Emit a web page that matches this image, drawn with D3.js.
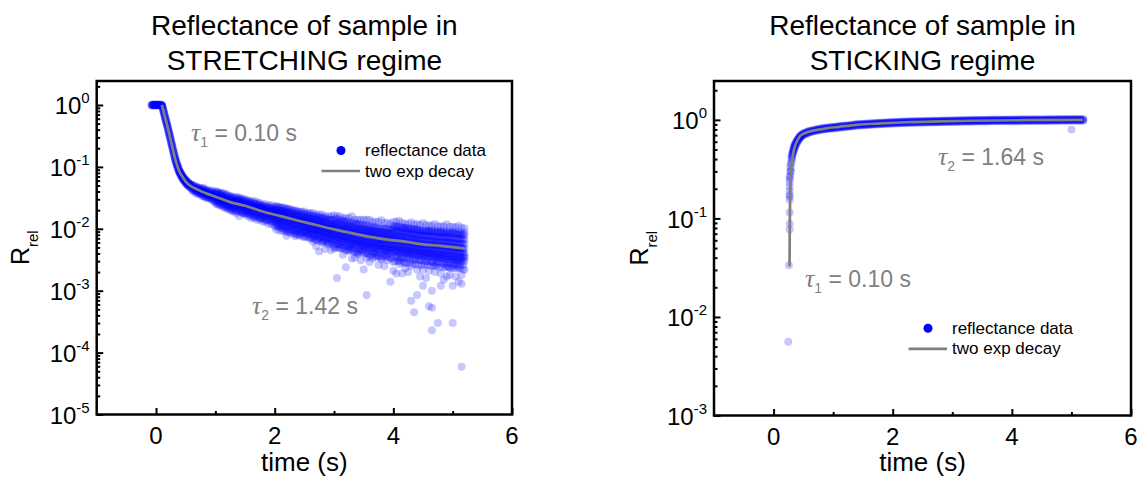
<!DOCTYPE html>
<html>
  <head>
    <meta charset="utf-8">
    <title>Reflectance of sample</title>
    <script src="https://cdn.jsdelivr.net/npm/d3@7"></script>
    <style>
      body { margin: 0; background: #fff; }
      svg { font-family: "Liberation Sans", Arial, sans-serif; background: #fff; }
      .axis line { stroke: #000; stroke-width: 2; }
      .axis path { display: none; }
      .tau { font-family: "Liberation Serif", "Times New Roman", serif; font-style: italic; }
    </style>
  </head>
  <body>
    <svg id="chart" width="1138" height="477"></svg>

    <script>
      // ---- data (time in s, relative reflectance) ----
      // stretching regime: [time, [values at that time]]
      const stretchPoints = [
        [-0.08, [1.0]], [-0.07, [1.01, 0.99]], [-0.06, [1.0, 0.98]], [-0.05, [1.02, 0.99]], [-0.04, [1.0, 1.01]],
        [-0.03, [0.99, 1.02]], [-0.02, [1.0, 0.98]], [-0.01, [1.01, 0.99]], [0.0, [1.0, 1.02]], [0.01, [0.99, 1.0]],
        [0.02, [1.01, 0.98]], [0.03, [1.0, 1.02]], [0.04, [0.99, 1.01]], [0.05, [1.0, 0.98]], [0.06, [1.02, 0.99]],
        [0.07, [1.0, 1.01]], [0.08, [0.99, 1.0]], [0.09, [1.01, 0.98]],
        [0.10, [1.0, 0.97, 0.99]], [0.11, [0.95, 0.89, 0.92]], [0.12, [0.87, 0.81, 0.84]], [0.13, [0.80, 0.74, 0.77]],
        [0.14, [0.73, 0.67, 0.70]], [0.15, [0.67, 0.61, 0.64]], [0.16, [0.62, 0.56, 0.59]], [0.17, [0.57, 0.51, 0.54]],
        [0.18, [0.52, 0.48, 0.50]], [0.19, [0.48, 0.44, 0.46]], [0.20, [0.44, 0.40, 0.42]], [0.21, [0.40, 0.36, 0.38]],
        [0.22, [0.37, 0.33, 0.35]], [0.23, [0.34, 0.30, 0.32]], [0.24, [0.31, 0.28, 0.29]], [0.25, [0.28, 0.25, 0.265]],
        [0.26, [0.25, 0.23, 0.24]], [0.27, [0.23, 0.21, 0.22]], [0.28, [0.21, 0.19, 0.20]], [0.29, [0.19, 0.17, 0.18]],
        [0.30, [0.175, 0.157, 0.165]], [0.31, [0.158, 0.142, 0.150]], [0.32, [0.145, 0.131, 0.138]], [0.33, [0.134, 0.121, 0.127]],
        [0.34, [0.124, 0.112, 0.118]], [0.35, [0.116, 0.105, 0.110]], [0.36, [0.108, 0.098, 0.103]], [0.37, [0.102, 0.092, 0.097]],
        [0.38, [0.096, 0.086, 0.091]], [0.39, [0.090, 0.082, 0.086]], [0.40, [0.086, 0.078, 0.082]], [0.41, [0.082, 0.075, 0.078]],
        [0.42, [0.079, 0.071, 0.075]], [0.43, [0.076, 0.069, 0.072]], [0.44, [0.073, 0.066, 0.069]], [0.45, [0.070, 0.064, 0.067]],
        [0.46, [0.068, 0.062, 0.065]], [0.47, [0.066, 0.060, 0.063]], [0.48, [0.064, 0.058, 0.061]], [0.49, [0.063, 0.057, 0.060]],
        [0.50, [0.061, 0.055, 0.058]], [0.51, [0.060, 0.054, 0.057]], [0.52, [0.058, 0.052, 0.055]], [0.53, [0.057, 0.051, 0.054]],
        [0.54, [0.056, 0.050, 0.053]], [0.55, [0.055, 0.049, 0.052]], [0.56, [0.054, 0.048, 0.051]], [0.57, [0.053, 0.047, 0.050]],
        [0.58, [0.052, 0.047, 0.050]],
        [0.60, [.052, .049, .047, .045, .050, .044]],
        [0.65, [.049, .046, .044, .042, .047, .041]],
        [0.70, [.047, .045, .042, .040, .038, .044]],
        [0.75, [.046, .043, .040, .038, .036, .042]],
        [0.80, [.044, .041, .039, .036, .034, .040, .046]],
        [0.85, [.043, .039, .037, .035, .032, .038, .041]],
        [0.90, [.042, .038, .036, .033, .031, .035, .040]],
        [0.95, [.041, .037, .034, .032, .029, .035, .039]],
        [1.00, [.040, .036, .033, .031, .028, .034, .038, .026]],
        [1.05, [.039, .035, .032, .030, .027, .033, .037, .025]],
        [1.10, [.038, .034, .031, .029, .026, .032, .036, .024]],
        [1.15, [.037, .032, .030, .028, .025, .029, .034, .022]],
        [1.20, [.036, .031, .028, .026, .023, .029, .033, .021]],
        [1.25, [.034, .030, .027, .025, .022, .028, .032, .020]],
        [1.30, [.033, .029, .026, .024, .021, .027, .031, .019]],
        [1.35, [.033, .028, .026, .023, .020, .027, .030, .018]],
        [1.40, [.032, .028, .025, .023, .020, .026, .030, .016]],
        [1.45, [.031, .027, .024, .022, .019, .025, .029, .018]],
        [1.50, [.030, .026, .024, .021, .018, .025, .028, .017]],
        [1.55, [.029, .025, .023, .020, .018, .024, .027, .016]],
        [1.60, [.028, .025, .022, .020, .017, .023, .026, .015]],
        [1.65, [.028, .024, .021, .019, .016, .022, .026, .015]],
        [1.70, [.027, .023, .021, .018, .016, .022, .025, .014]],
        [1.75, [.026, .023, .020, .018, .015, .021, .024, .014]],
        [1.80, [.025, .022, .019, .017, .015, .020, .023, .013]],
        [1.85, [.025, .021, .019, .017, .014, .020, .023, .013]],
        [1.90, [.024, .021, .018, .016, .014, .019, .022, .012]],
        [1.95, [.024, .020, .018, .016, .013, .019, .022, .012]],
        [2.00, [.023, .020, .017, .015, .013, .018, .021, .011, .0145]],
        [2.05, [.023, .019, .017, .015, .012, .018, .021, .011, .014]],
        [2.10, [.022, .019, .016, .014, .012, .017, .020, .0105, .0135]],
        [2.15, [.022, .018, .016, .014, .011, .017, .020, .0098, .013]],
        [2.20, [.021, .018, .015, .013, .011, .016, .019, .0095, .0077]],
        [2.25, [.021, .017, .015, .013, .011, .016, .019, .0089, .012]],
        [2.30, [.020, .017, .014, .012, .010, .015, .018, .0092, .0115]],
        [2.35, [.020, .016, .014, .012, .010, .015, .018, .0086, .0076]],
        [2.40, [.019, .016, .0135, .012, .0095, .014, .017, .0080, .011]],
        [2.45, [.019, .015, .013, .011, .0092, .014, .017, .0084, .0105]],
        [2.50, [.019, .015, .013, .011, .0090, .014, .017, .0074, .010]],
        [2.55, [.018, .015, .0125, .011, .0088, .013, .016, .0078, .0098]],
        [2.60, [.018, .014, .012, .010, .0085, .013, .016, .0070, .0096]],
        [2.65, [.018, .014, .012, .010, .0082, .013, .016, .0073, .0093, .0062]],
        [2.70, [.017, .014, .0115, .0098, .0080, .012, .015, .0066, .0090, .0052]],
        [2.75, [.017, .013, .011, .0095, .0078, .012, .015, .0069, .0088, .0043]],
        [2.80, [.017, .013, .011, .0093, .0076, .012, .015, .0062, .0086, .0060]],
        [2.85, [.016, .013, .0105, .0090, .0074, .011, .014, .0065, .0084, .0047]],
        [2.90, [.016, .012, .010, .0088, .0072, .011, .014, .0058, .0081, .0056]],
        [2.95, [.016, .012, .010, .0086, .0070, .011, .014, .0061, .0079, .0045]],
        [3.00, [.0165, .012, .0098, .0084, .0068, .011, .014, .0052, .0077, .0048]],
        [3.05, [.016, .012, .0096, .0082, .0066, .0105, .013, .0057, .0075, .0016]],
        [3.10, [.016, .0115, .0093, .0080, .0064, .010, .013, .0055, .0073, .0049]],
        [3.15, [.015, .011, .0091, .0078, .0062, .010, .013, .0050, .0071, .0038]],
        [3.20, [.015, .011, .0089, .0076, .0060, .0098, .0125, .0044, .0069, .0024]],
        [3.25, [.015, .011, .0087, .0074, .0058, .0096, .012, .0050, .0067, .0044]],
        [3.30, [.016, .0105, .0085, .0072, .0057, .0094, .012, .0048, .0065, .0033]],
        [3.35, [.014, .010, .0083, .0070, .0055, .0092, .012, .0042, .0063, .0034]],
        [3.40, [.014, .010, .0081, .0068, .0054, .0090, .0115, .0039, .0062, .0040]],
        [3.45, [.014, .0098, .0079, .0066, .0053, .0088, .011, .0045, .0060, .0031]],
        [3.50, [.014, .0096, .0077, .0065, .0052, .0086, .011, .0044, .0058, .0022]],
        [3.55, [.014, .0095, .0076, .0064, .0051, .0085, .011, .0040, .0057, .0034, .00085]],
        [3.60, [.014, .0093, .0074, .0063, .0050, .0083, .0105, .0036, .0056, .0029]],
        [3.65, [.013, .0092, .0073, .0062, .0049, .0082, .0105, .0041, .0055, .0033]],
        [3.70, [.013, .0090, .0071, .0061, .0048, .0080, .010, .0040, .0054, .0035]],
        [3.75, [.013, .0089, .0070, .0060, .0047, .0079, .010, .0036, .0053, .0026]],
        [3.80, [.0138, .0088, .0069, .0059, .0046, .0078, .010, .0032, .0052, .0033]],
        [3.85, [.0125, .0087, .0068, .0058, .0045, .0077, .0098, .0038, .0051, .0025]],
        [3.90, [.0125, .0086, .0067, .0057, .0045, .0076, .0097, .0037, .0050, .0031]],
        [3.95, [.012, .0085, .0066, .0056, .0044, .0075, .0096, .0033, .0049, .0014]],
        [4.00, [.013, .0086, .0066, .0056, .0044, .0075, .0098, .0029, .0049, .0021, .011]],
        [4.05, [.013, .0085, .0065, .0055, .0043, .0074, .0097, .0036, .0048, .0019, .011]],
        [4.10, [.0135, .0084, .0064, .0054, .0042, .0073, .0096, .0027, .0047, .0031, .011]],
        [4.15, [.0125, .0083, .0063, .0053, .0042, .0072, .0095, .0034, .0046, .0019, .0105]],
        [4.20, [.012, .0082, .0062, .0053, .0041, .0071, .0094, .0023, .0046, .0028, .0105]],
        [4.25, [.012, .0081, .0061, .0052, .0040, .0070, .0093, .0035, .0045, .0020, .0102]],
        [4.30, [.0128, .0080, .0060, .0051, .0040, .0069, .0092, .0025, .0044, .00069, .010]],
        [4.35, [.012, .0079, .0059, .0050, .0039, .0068, .0091, .0032, .0044, .00045, .010]],
        [4.40, [.0118, .0078, .0058, .0049, .0038, .0067, .0090, .0022, .0043, .00085, .0098]],
        [4.45, [.0116, .0077, .0057, .0049, .0038, .0066, .0089, .0031, .0042, .0017, .0096]],
        [4.50, [.0124, .0076, .0056, .0048, .0037, .0065, .0088, .0022, .0041, .0012, .0095]],
        [4.55, [.0115, .0076, .0056, .0048, .0037, .0065, .0088, .0030, .0041, .0016, .0095]],
        [4.60, [.0113, .0075, .0055, .0047, .0036, .0064, .0087, .0021, .0040, .00056, .0094]],
        [4.65, [.0113, .0075, .0055, .0047, .0036, .0064, .0087, .0029, .0040, .00053, .00023, .0010, .0094]],
        [4.70, [.0120, .0074, .0054, .0046, .0035, .0063, .0086, .0020, .0039, .0026, .0093]],
        [4.75, [.011, .0073, .0053, .0045, .0034, .0062, .0085, .0028, .0038, .0003, .0092]],
        [4.80, [.011, .0073, .0053, .0045, .0034, .0062, .0085, .0019, .0038, .0012, .0092]],
        [4.85, [.011, .0072, .0052, .0044, .0033, .0061, .0084, .0027, .0037, .0015, .0091]],
        [4.90, [.0118, .0072, .0052, .0044, .0033, .0061, .0084, .0025, .0037, .0017, .0091]],
        [4.95, [.0108, .0071, .0051, .0043, .0032, .0060, .0083, .0018, .0036, .0024, .0090]],
        [5.00, [.0108, .0071, .0051, .0043, .0032, .0060, .0083, .0025, .0036, .0003, .0012, .0090]],
        [5.05, [.0106, .0070, .0050, .0042, .0031, .0059, .0082, .0017, .0035, .0026, .0089]],
        [5.10, [.0112, .0069, .0049, .0041, .0031, .0058, .0081, .0024, .0034, .0014, .0088]],
        [5.15, [.0104, .0068, .0049, .0041, .0030, .0058, .0080, .0013, .0034, .000059, .0018, .0087]],
        [5.20, [.0102, .0067, .0048, .0040, .0030, .0057, .0079, .0036, .0034, .0022, .0087]]
      ];

      // dense core of the stretching cloud, between the columns above
      const stretchCore = [
        [0.625, [.051, .048, .045, .042, .040]], [0.675, [.048, .045, .042, .040, .037]],
        [0.725, [.046, .043, .040, .038, .036]], [0.775, [.044, .041, .038, .036, .034]],
        [0.825, [.042, .039, .036, .034, .032]], [0.875, [.040, .038, .035, .033, .031]],
        [0.925, [.039, .036, .034, .032, .030]], [0.975, [.037, .035, .032, .030, .028]],
        [1.025, [.040, .036, .0325, .030, .027, .025]], [1.075, [.038, .035, .0315, .029, .026, .024]],
        [1.125, [.037, .033, .030, .028, .025, .023]], [1.175, [.035, .031, .0285, .026, .024, .022]],
        [1.225, [.034, .030, .0275, .025, .023, .021]], [1.275, [.032, .029, .0265, .024, .022, .020]],
        [1.325, [.031, .028, .026, .024, .0215, .0195]], [1.375, [.031, .028, .025, .023, .021, .019]],
        [1.425, [.030, .027, .0245, .0225, .0205, .0186]], [1.475, [.029, .026, .024, .022, .020, .018]],
        [1.525, [.028, .025, .023, .021, .0193, .0175]], [1.575, [.027, .0245, .022, .0205, .0187, .017]],
        [1.625, [.026, .0237, .0215, .0198, .018, .0163]], [1.675, [.0254, .0229, .0208, .0191, .0175, .0158]],
        [1.725, [.0247, .0223, .0203, .0187, .0170, .0154]], [1.775, [.0238, .0215, .0195, .0179, .0164, .0148]],
        [1.825, [.0229, .0207, .0188, .0173, .0158, .0143]], [1.875, [.0223, .0201, .0183, .0168, .0154, .0139]],
        [1.925, [.0217, .0196, .0178, .0164, .0150, .0135]], [1.975, [.0211, .0190, .0173, .0159, .0145, .0131]],
        [2.025, [.0232, .0202, .0178, .0160, .0143, .0126, .0111, .0097]],
        [2.075, [.0225, .0196, .0173, .0155, .0139, .0122, .0108, .0095]],
        [2.125, [.0219, .0191, .0169, .0151, .0135, .0119, .0105, .0092]],
        [2.175, [.0214, .0186, .0164, .0147, .0132, .0116, .0102, .0090]],
        [2.225, [.0208, .0181, .0160, .0143, .0128, .0113, .0100, .0088]],
        [2.275, [.0201, .0175, .0155, .0139, .0124, .0110, .0096, .0085]],
        [2.325, [.0196, .0170, .0151, .0135, .0121, .0107, .0094, .0082]],
        [2.375, [.0190, .0166, .0146, .0131, .0117, .0104, .0091, .0080]],
        [2.425, [.0185, .0161, .0142, .0127, .0114, .0101, .0088, .0078]],
        [2.475, [.0179, .0156, .0138, .0124, .0111, .0098, .0086, .0075]],
        [2.525, [.0175, .0152, .0135, .0121, .0108, .0095, .0084, .0074]],
        [2.575, [.0171, .0149, .0131, .0118, .0105, .0093, .0082, .0072]],
        [2.625, [.0166, .0144, .0127, .0114, .0102, .0090, .0079, .0070]],
        [2.675, [.0161, .0140, .0124, .0111, .0099, .0088, .0077, .0068]],
        [2.725, [.0157, .0137, .0121, .0108, .0097, .0086, .0075, .0066]],
        [2.775, [.0153, .0133, .0118, .0105, .0094, .0083, .0073, .0064]],
        [2.825, [.0149, .0130, .0114, .0103, .0092, .0081, .0071, .0063]],
        [2.875, [.0145, .0126, .0111, .0100, .0089, .0079, .0069, .0061]],
        [2.925, [.0141, .0122, .0108, .0097, .0087, .0077, .0067, .0059]],
        [2.975, [.0137, .0119, .0105, .0094, .0084, .0074, .0065, .0057]],
        [3.025, [.0146, .0124, .0109, .0095, .0084, .0075, .0066, .0058, .0050]],
        [3.075, [.0143, .0122, .0106, .0093, .0083, .0073, .0065, .0057, .0049]],
        [3.125, [.0138, .0118, .0103, .0090, .0080, .0071, .0063, .0055, .0048]],
        [3.175, [.0135, .0115, .0101, .0088, .0078, .0069, .0061, .0054, .0047]],
        [3.225, [.0132, .0113, .0099, .0086, .0077, .0068, .0060, .0053, .0046]],
        [3.275, [.0129, .0110, .0096, .0084, .0075, .0066, .0058, .0052, .0045]],
        [3.325, [.0126, .0108, .0094, .0082, .0073, .0065, .0057, .0050, .0044]],
        [3.375, [.0123, .0105, .0092, .0080, .0071, .0063, .0056, .0049, .0043]],
        [3.425, [.0120, .0102, .0090, .0078, .0070, .0062, .0054, .0048, .0042]],
        [3.475, [.0117, .0100, .0087, .0076, .0068, .0060, .0053, .0047, .0041]],
        [3.525, [.0115, .0098, .0086, .0075, .0067, .0059, .0052, .0046, .0040]],
        [3.575, [.0113, .0096, .0084, .0074, .0065, .0058, .0051, .0045, .0039]],
        [3.625, [.0110, .0094, .0082, .0072, .0064, .0057, .0050, .0044, .0038]],
        [3.675, [.0108, .0092, .0081, .0071, .0063, .0055, .0049, .0043, .0037]],
        [3.725, [.0106, .0090, .0079, .0069, .0061, .0054, .0048, .0042, .0037]],
        [3.775, [.0104, .0089, .0078, .0068, .0060, .0054, .0047, .0042, .0036]],
        [3.825, [.0103, .0088, .0077, .0067, .0060, .0053, .0047, .0041, .0036]],
        [3.875, [.0101, .0086, .0076, .0066, .0059, .0052, .0046, .0041, .0035]],
        [3.925, [.0100, .0085, .0074, .0065, .0058, .0051, .0045, .0040, .0035]],
        [3.975, [.0099, .0084, .0074, .0065, .0057, .0051, .0045, .0040, .0034]],
        [4.025, [.0108, .0090, .0077, .0067, .0059, .0052, .0046, .0041, .0035, .0030]],
        [4.075, [.0106, .0089, .0076, .0066, .0058, .0052, .0045, .0040, .0035, .0030]],
        [4.125, [.0105, .0088, .0075, .0065, .0057, .0051, .0044, .0039, .0034, .0029]],
        [4.175, [.0103, .0086, .0074, .0064, .0056, .0050, .0044, .0039, .0034, .0029]],
        [4.225, [.0101, .0085, .0073, .0063, .0055, .0049, .0043, .0038, .0033, .0028]],
        [4.275, [.0100, .0083, .0071, .0062, .0054, .0048, .0042, .0038, .0033, .0028]],
        [4.325, [.0098, .0082, .0070, .0061, .0054, .0048, .0042, .0037, .0032, .0027]],
        [4.375, [.0097, .0081, .0069, .0060, .0053, .0047, .0041, .0036, .0032, .0027]],
        [4.425, [.0095, .0079, .0068, .0059, .0052, .0046, .0040, .0036, .0031, .0026]],
        [4.475, [.0093, .0078, .0067, .0058, .0051, .0045, .0040, .0035, .0031, .0026]],
        [4.525, [.0092, .0077, .0066, .0057, .0050, .0045, .0039, .0035, .0030, .0026]],
        [4.575, [.0092, .0077, .0065, .0057, .0050, .0044, .0039, .0034, .0030, .0026]],
        [4.625, [.0091, .0076, .0065, .0056, .0050, .0044, .0039, .0034, .0030, .0025]],
        [4.675, [.0090, .0075, .0064, .0056, .0049, .0044, .0038, .0034, .0029, .0025]],
        [4.725, [.0088, .0074, .0063, .0055, .0048, .0043, .0037, .0033, .0029, .0025]],
        [4.775, [.0087, .0073, .0063, .0054, .0048, .0042, .0037, .0033, .0029, .0024]],
        [4.825, [.0087, .0072, .0062, .0054, .0047, .0042, .0037, .0033, .0028, .0024]],
        [4.875, [.0086, .0072, .0061, .0053, .0047, .0042, .0036, .0032, .0028, .0024]],
        [4.925, [.0085, .0071, .0061, .0053, .0046, .0041, .0036, .0032, .0028, .0024]],
        [4.975, [.0084, .0070, .0060, .0052, .0046, .0041, .0036, .0032, .0028, .0023]],
        [5.025, [.0083, .0070, .0060, .0052, .0045, .0040, .0035, .0031, .0027, .0023]],
        [5.075, [.0082, .0068, .0058, .0050, .0045, .0040, .0035, .0031, .0027, .0023]],
        [5.125, [.0081, .0068, .0058, .0050, .0044, .0039, .0034, .0030, .0026, .0023]],
        [5.175, [.0080, .0067, .0057, .0049, .0044, .0039, .0034, .0030, .0026, .0022]]
      ];

      const stretchFit = [
        [0.096, 1.0], [0.12, 0.84], [0.14, 0.70], [0.16, 0.59], [0.18, 0.50], [0.20, 0.42], [0.22, 0.35],
        [0.24, 0.29], [0.26, 0.24], [0.28, 0.20], [0.30, 0.165], [0.32, 0.138], [0.34, 0.118], [0.36, 0.103],
        [0.38, 0.091], [0.40, 0.082], [0.43, 0.073], [0.46, 0.066], [0.50, 0.058], [0.55, 0.052], [0.60, 0.048],
        [0.70, 0.043], [0.85, 0.037], [1.0, 0.033], [1.25, 0.027], [1.5, 0.0235], [1.8, 0.019], [2.1, 0.016],
        [2.4, 0.0135], [2.7, 0.0115], [3.0, 0.0098], [3.3, 0.0085], [3.6, 0.0074], [3.9, 0.0067], [4.2, 0.0062],
        [4.5, 0.0056], [4.8, 0.0053], [5.2, 0.0048]
      ];

      // sticking regime
      const stickPoints = [
        [0.246, [0.0056]], [0.257, [0.0335]],
        [0.27, [0.077, 0.0885, 0.115, 0.155, 0.167, 0.174, 0.19, 0.21, 0.232, 0.25, 0.266]],
        [0.28, [0.27, 0.30, 0.34]], [0.29, [0.30, 0.32, 0.36]], [0.30, [0.37, 0.40, 0.43]],
        [0.31, [0.40, 0.42, 0.45]], [0.32, [0.44, 0.46, 0.48]], [0.33, [0.46, 0.48, 0.50]],
        [0.34, [0.49, 0.51, 0.53]], [0.35, [0.51, 0.53, 0.55]], [0.36, [0.53, 0.55, 0.57]],
        [0.37, [0.55, 0.57, 0.59]], [0.385, [0.57, 0.59, 0.61]], [0.40, [0.60, 0.62, 0.63]],
        [0.415, [0.61, 0.63, 0.65]], [0.43, [0.64, 0.66, 0.67]], [0.445, [0.655, 0.67, 0.685]],
        [0.46, [0.67, 0.69, 0.70]], [0.48, [0.69, 0.705, 0.715]], [0.50, [0.70, 0.72, 0.73]],
        [0.525, [0.715, 0.73, 0.74]], [0.55, [0.72, 0.74, 0.75]], [0.575, [0.735, 0.75, 0.76]],
        [0.60, [.775, .760, .745]], [0.65, [.785, .770, .755]], [0.70, [.800, .785, .770]],
        [0.75, [.811, .795, .779]], [0.80, [.821, .805, .789]], [0.85, [.831, .815, .799]],
        [0.90, [.836, .820, .804]], [0.95, [.845, .828, .811]], [1.00, [.852, .835, .818]],
        [1.05, [.857, .840, .823]], [1.10, [.867, .850, .833]], [1.15, [.872, .855, .838]],
        [1.20, [.877, .860, .843]], [1.25, [.884, .867, .850]], [1.30, [.891, .874, .857]],
        [1.35, [.900, .882, .864]], [1.40, [.908, .890, .872]], [1.45, [.911, .893, .875]],
        [1.50, [.915, .897, .879]], [1.55, [.919, .901, .883]], [1.60, [.923, .905, .887]],
        [1.65, [.927, .909, .891]], [1.70, [.931, .913, .895]], [1.75, [.935, .917, .899]],
        [1.80, [.938, .920, .902]], [1.85, [.942, .924, .906]], [1.90, [.947, .928, .909]],
        [1.95, [.950, .931, .912]], [2.00, [.954, .935, .916]], [2.05, [.956, .937, .918]],
        [2.10, [.959, .940, .921]], [2.15, [.962, .943, .924]], [2.20, [.964, .945, .926]],
        [2.25, [.966, .947, .928]], [2.30, [.968, .949, .930]], [2.35, [.970, .951, .932]],
        [2.40, [.972, .953, .934]], [2.45, [.973, .954, .935]], [2.50, [.974, .955, .936]],
        [2.55, [.976, .957, .938]], [2.60, [.977, .958, .939]], [2.65, [.979, .960, .941]],
        [2.70, [.981, .962, .943]], [2.75, [.982, .963, .944]], [2.80, [.984, .965, .946]],
        [2.85, [.985, .966, .947]], [2.90, [.987, .968, .949]], [2.95, [.988, .969, .950]],
        [3.00, [.989, .970, .951]], [3.05, [.991, .972, .953]], [3.10, [.992, .973, .954]],
        [3.15, [.995, .975, .955]], [3.20, [.996, .976, .956]], [3.25, [.997, .977, .957]],
        [3.30, [.999, .979, .959]], [3.35, [1.000, .980, .960]], [3.40, [1.001, .981, .961]],
        [3.45, [1.002, .982, .962]], [3.50, [1.003, .983, .963]], [3.55, [1.004, .984, .964]],
        [3.60, [1.005, .985, .965]], [3.65, [1.006, .986, .966]], [3.70, [1.007, .987, .967]],
        [3.75, [1.008, .988, .968]], [3.80, [1.008, .988, .968]], [3.85, [1.009, .989, .969]],
        [3.90, [1.009, .989, .969]], [3.95, [1.010, .990, .970]], [4.00, [1.010, .990, .970]],
        [4.05, [1.011, .991, .971]], [4.10, [1.011, .991, .971]], [4.15, [1.012, .992, .972]],
        [4.20, [1.012, .992, .972]], [4.25, [1.013, .993, .973]], [4.30, [1.013, .993, .973]],
        [4.35, [1.014, .994, .974]], [4.40, [1.014, .994, .974]], [4.45, [1.015, .995, .975]],
        [4.50, [1.015, .995, .975]], [4.55, [1.016, .996, .976]], [4.60, [1.016, .996, .976]],
        [4.65, [1.017, .997, .977]], [4.70, [1.017, .997, .977]], [4.75, [1.018, .998, .978]],
        [4.80, [1.018, .998, .978]], [4.85, [1.019, .999, .979]], [4.90, [1.019, .999, .979]],
        [4.95, [1.020, 1.000, .980]], [5.00, [1.020, 1.000, .980, 0.80]], [5.05, [1.020, 1.000, .980]],
        [5.10, [1.020, 1.000, .980]], [5.15, [1.020, 1.000, .980]], [5.20, [1.020, 1.000, .980]]
      ];

      const stickCore = [
        [0.625, [.773, .757]], [0.675, [.785, .770]], [0.725, [.798, .782]], [0.775, [.808, .792]],
        [0.825, [.818, .802]], [0.875, [.826, .809]], [0.925, [.832, .816]], [0.975, [.840, .823]],
        [1.025, [.846, .829]], [1.075, [.853, .837]], [1.125, [.861, .844]], [1.175, [.866, .849]],
        [1.225, [.872, .855]], [1.275, [.879, .862]], [1.325, [.887, .869]], [1.375, [.895, .877]],
        [1.425, [.900, .883]], [1.475, [.904, .886]], [1.525, [.908, .890]], [1.575, [.912, .894]],
        [1.625, [.916, .898]], [1.675, [.920, .902]], [1.725, [.924, .906]], [1.775, [.928, .909]],
        [1.825, [.931, .913]], [1.875, [.935, .917]], [1.925, [.939, .920]], [1.975, [.942, .924]],
        [2.025, [.945, .927]], [2.075, [.948, .929]], [2.125, [.951, .932]], [2.175, [.953, .935]],
        [2.225, [.955, .937]], [2.275, [.957, .939]], [2.325, [.960, .941]], [2.375, [.962, .942]],
        [2.425, [.963, .944]], [2.475, [.964, .945]], [2.525, [.966, .946]], [2.575, [.967, .948]],
        [2.625, [.969, .949]], [2.675, [.971, .951]], [2.725, [.972, .953]], [2.775, [.974, .954]],
        [2.825, [.975, .956]], [2.875, [.977, .957]], [2.925, [.978, .959]], [2.975, [.979, .960]],
        [3.025, [.981, .961]], [3.075, [.982, .963]], [3.125, [.984, .964]], [3.175, [.985, .966]],
        [3.225, [.986, .967]], [3.275, [.988, .968]], [3.325, [.989, .970]], [3.375, [.990, .971]],
        [3.425, [.991, .972]], [3.475, [.992, .973]], [3.525, [.993, .974]], [3.575, [.994, .975]],
        [3.625, [.995, .976]], [3.675, [.996, .977]], [3.725, [.997, .978]], [3.775, [.998, .978]],
        [3.825, [.998, .979]], [3.875, [.999, .979]], [3.925, [.999, .980]], [3.975, [1.000, .980]],
        [4.025, [1.000, .981]], [4.075, [1.001, .981]], [4.125, [1.001, .982]], [4.175, [1.002, .982]],
        [4.225, [1.002, .983]], [4.275, [1.003, .983]], [4.325, [1.003, .984]], [4.375, [1.004, .984]],
        [4.425, [1.004, .985]], [4.475, [1.005, .985]], [4.525, [1.005, .986]], [4.575, [1.006, .986]],
        [4.625, [1.006, .987]], [4.675, [1.007, .987]], [4.725, [1.007, .988]], [4.775, [1.008, .988]],
        [4.825, [1.008, .989]], [4.875, [1.009, .989]], [4.925, [1.009, .990]], [4.975, [1.010, .990]],
        [5.025, [1.010, .990]], [5.075, [1.010, .990]], [5.125, [1.010, .990]], [5.175, [1.010, .990]]
      ];

      const stickFit = [
        [0.268, 0.0325], [0.272, 0.08], [0.275, 0.123], [0.282, 0.20], [0.29, 0.29], [0.31, 0.38],
        [0.33, 0.46], [0.35, 0.52], [0.39, 0.60], [0.44, 0.68], [0.50, 0.72], [0.60, 0.76], [0.75, 0.795],
        [0.88, 0.82], [1.1, 0.85], [1.39, 0.89], [1.8, 0.92], [2.23, 0.946], [2.8, 0.965], [3.35, 0.98],
        [4.2, 0.992], [5.19, 1.0]
      ];

      const xTicks = [0, 2, 4, 6];
      const xMinorTicks = [1, 3, 5];
      const stretchDecades = [-5, -4, -3, -2, -1, 0];
      const stickDecades = [-3, -2, -1, 0];

      // ---- page ----
      const svg = d3.select("#chart");

      const panels = [
        {
          title: ["Reflectance of sample in", "STRETCHING regime"],
          left: 96.7, right: 512, top: 81, bottom: 414.5,
          yDomain: [1e-5, 2.44], decades: stretchDecades,
          points: stretchPoints.concat(stretchCore), fit: stretchFit,
          yTitleX: 29,
          legend: { x: 341, y: 150.5 },
          notes: [
            { x: 191, y: 141, sub: "1", text: " = 0.10 s" },
            { x: 252, y: 314, sub: "2", text: " = 1.42 s" }
          ]
        },
        {
          title: ["Reflectance of sample in", "STICKING regime"],
          left: 714, right: 1131, top: 81, bottom: 415.5,
          yDomain: [1e-3, 2.48], decades: stickDecades,
          points: stickPoints.concat(stickCore), fit: stickFit,
          yTitleX: 648,
          legend: { x: 928, y: 328.3 },
          notes: [
            { x: 938, y: 165, sub: "2", text: " = 1.64 s" },
            { x: 805, y: 287, sub: "1", text: " = 0.10 s" }
          ]
        }
      ];

      panels.forEach(drawPanel);

      function drawPanel(p) {
        const g = svg.append("g");
        const x = d3.scaleLinear().domain([-1, 6]).range([p.left, p.right]);
        const y = d3.scaleLog().domain(p.yDomain).range([p.bottom, p.top]);
        const cx = (p.left + p.right) / 2;

        // title
        g.selectAll(".title")
          .data(p.title)
          .enter().append("text")
            .attr("x", cx)
            .attr("y", function(d, i) { return 35 + i * 35; })
            .attr("text-anchor", "middle")
            .style("font-size", "28px")
            .text(function(d) { return d; });

        // scatter
        const flat = [];
        p.points.forEach(function(col) {
          col[1].forEach(function(v) { flat.push([col[0], v]); });
        });
        g.append("g")
          .selectAll("circle")
          .data(flat)
          .enter().append("circle")
            .attr("cx", function(d) { return x(d[0]); })
            .attr("cy", function(d) { return y(d[1]); })
            .attr("r", 4)
            .style("fill", "#0000ff")
            .style("fill-opacity", 0.22);

        // fit
        const line = d3.line()
          .x(function(d) { return x(d[0]); })
          .y(function(d) { return y(d[1]); })
          .curve(d3.curveMonotoneX);
        g.append("path")
          .datum(p.fit)
          .attr("d", line)
          .style("fill", "none")
          .style("stroke", "#808080")
          .style("stroke-width", 2.7);

        // y ticks
        const majors = p.decades.map(function(e) { return Math.pow(10, e); });
        const minors = [];
        majors.forEach(function(m) {
          for (let k = 2; k < 10; k++) {
            if (m * k <= p.yDomain[1]) minors.push(m * k);
          }
        });
        g.append("g")
          .attr("class", "axis")
          .attr("transform", "translate(" + p.left + ",0)")
          .call(d3.axisLeft(y).tickValues(minors).tickSize(-3.5).tickFormat(""));
        g.append("g")
          .attr("class", "axis")
          .attr("transform", "translate(" + p.left + ",0)")
          .call(d3.axisLeft(y).tickValues(majors).tickSize(-6.5).tickFormat(""));

        // x ticks
        g.append("g")
          .attr("class", "axis")
          .attr("transform", "translate(0," + p.bottom + ")")
          .call(d3.axisBottom(x).tickValues(xMinorTicks).tickSize(-3.5).tickFormat(""));
        g.append("g")
          .attr("class", "axis")
          .attr("transform", "translate(0," + p.bottom + ")")
          .call(d3.axisBottom(x).tickValues(xTicks).tickSize(-6.5).tickFormat(""));

        // frame
        g.append("rect")
          .attr("x", p.left)
          .attr("y", p.top)
          .attr("width", p.right - p.left)
          .attr("height", p.bottom - p.top)
          .style("fill", "none")
          .style("stroke", "#000")
          .style("stroke-width", 2.5);

        // y tick labels
        const ylab = g.selectAll(".ylab")
          .data(p.decades)
          .enter().append("text")
            .attr("x", p.left - 7)
            .attr("y", function(d) { return y(Math.pow(10, d)) + 9.5; })
            .attr("text-anchor", "end")
            .style("font-size", "24px");
        ylab.append("tspan").text("10");
        ylab.append("tspan")
          .attr("dy", -11)
          .style("font-size", "15px")
          .text(function(d) { return d; });

        // x tick labels
        g.selectAll(".xlab")
          .data(xTicks)
          .enter().append("text")
            .attr("x", function(d) { return x(d); })
            .attr("y", p.bottom + 29)
            .attr("text-anchor", "middle")
            .style("font-size", "24px")
            .text(function(d) { return d; });

        // axis titles
        g.append("text")
          .attr("x", cx)
          .attr("y", 471)
          .attr("text-anchor", "middle")
          .style("font-size", "26px")
          .text("time (s)");
        const yt = g.append("text")
          .attr("transform", "translate(" + p.yTitleX + "," + ((p.top + p.bottom) / 2) + ") rotate(-90)")
          .attr("text-anchor", "middle")
          .style("font-size", "25px");
        yt.append("tspan").text("R");
        yt.append("tspan").attr("dy", 9).style("font-size", "15px").text("rel");

        // legend
        const lg = g.append("g");
        lg.append("circle")
          .attr("cx", p.legend.x)
          .attr("cy", p.legend.y)
          .attr("r", 4.5)
          .style("fill", "#0000ff");
        lg.append("line")
          .attr("x1", p.legend.x - 19.5)
          .attr("x2", p.legend.x + 19)
          .attr("y1", p.legend.y + 20.5)
          .attr("y2", p.legend.y + 20.5)
          .style("stroke", "#808080")
          .style("stroke-width", 2.7);
        lg.append("text")
          .attr("x", p.legend.x + 24)
          .attr("y", p.legend.y + 5.5)
          .style("font-size", "17px")
          .text("reflectance data");
        lg.append("text")
          .attr("x", p.legend.x + 24)
          .attr("y", p.legend.y + 26)
          .style("font-size", "17px")
          .text("two exp decay");

        // time constants
        p.notes.forEach(function(n) {
          const t = g.append("text")
            .attr("x", n.x)
            .attr("y", n.y)
            .style("fill", "#808080")
            .style("font-size", "23px");
          t.append("tspan").attr("class", "tau").style("font-size", "26px").text("\u03c4");
          t.append("tspan").attr("dy", 6).style("font-size", "14px").text(n.sub);
          t.append("tspan").attr("dy", -6).text(n.text);
        });
      }
    </script>
  </body>
</html>
